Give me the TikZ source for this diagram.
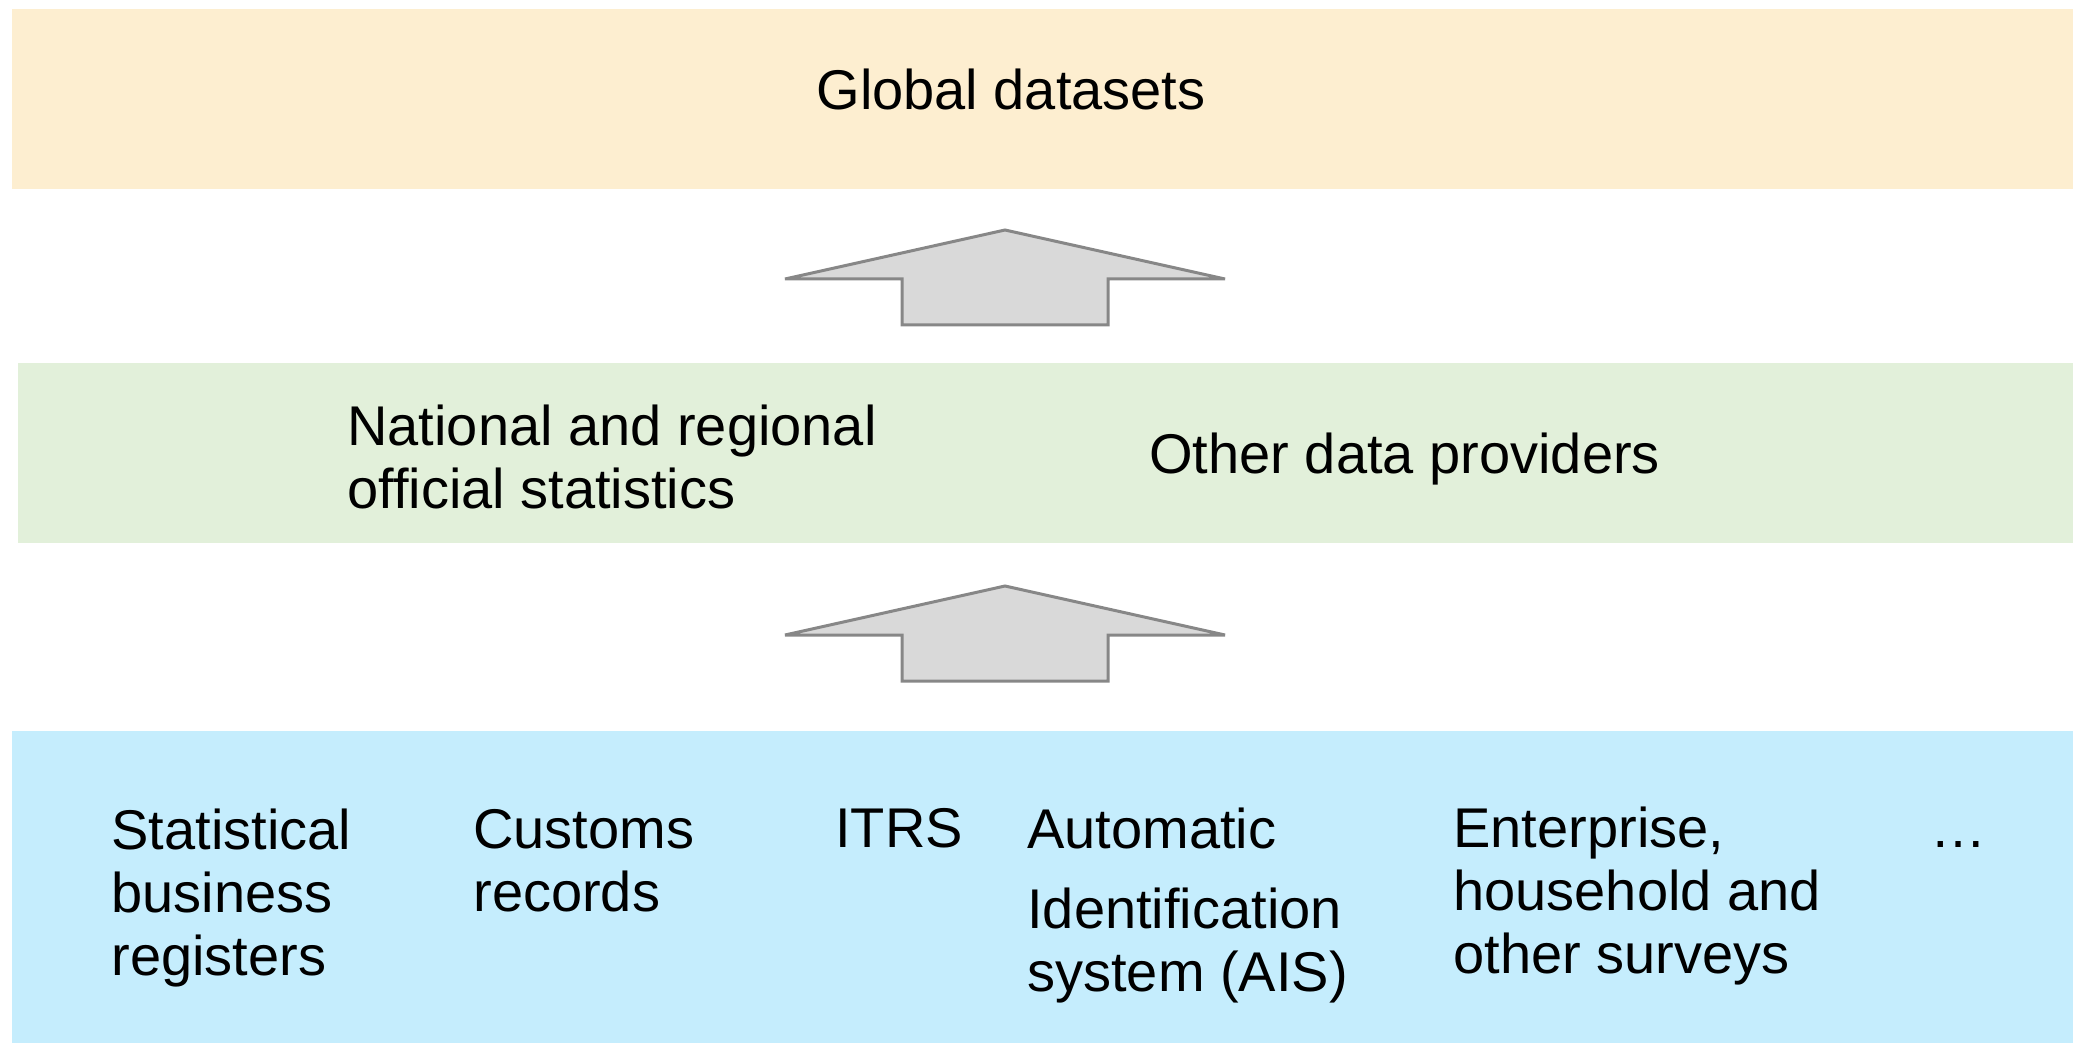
\documentclass[tikz,border=0pt]{standalone}
\usepackage{fontspec}
\setmainfont{Liberation Sans}
\definecolor{orangeband}{HTML}{FDEED0}
\definecolor{greenband}{HTML}{E2F0DA}
\definecolor{blueband}{HTML}{C5EDFD}
\definecolor{arrowfill}{HTML}{D9D9D9}
\definecolor{arrowgray}{HTML}{878787}
\begin{document}
\begin{tikzpicture}[x=0.5pt,y=-0.5pt,
  band/.style={draw=none,inner sep=0pt,outer sep=0pt},
  lbl/.style={anchor=base west,align=left,inner sep=0pt,font=\fontsize{28}{31.5}\selectfont},
  uparrow/.style={draw=arrowgray,fill=arrowfill,line width=1.5pt,miter limit=2}]
\useasboundingbox (0,0) rectangle (2073,1043);
% bands
\node[band,fill=orangeband,minimum width=1030.5pt,minimum height=90pt] (global) at (1042.5,99) {};
\node[band,fill=greenband,minimum width=1027.5pt,minimum height=90pt] (middle) at (1045.5,453) {};
\node[band,fill=blueband,minimum width=1030.5pt,minimum height=156pt] (sources) at (1042.5,887) {};
% arrows
\draw[uparrow] (1005,230) -- (1225,279) -- (1108,279) -- (1108,325) -- (902,325) -- (902,279) -- (785,279) -- cycle;
\draw[uparrow] (1005,586) -- (1225,635) -- (1108,635) -- (1108,681) -- (902,681) -- (902,635) -- (785,635) -- cycle;
% texts (base anchor = baseline of last line)
\node[lbl,anchor=base] (tglobal) at (1011,110) {Global datasets};
\node[lbl] (tnat) at (347,508) {National and regional\\official statistics};
\node[lbl] (tother) at (1149,473) {Other data providers};
\node[lbl] (tstat) at (111,975) {Statistical\\business\\registers};
\node[lbl] (tcust) at (473,911) {Customs\\records};
\node[lbl] (titrs) at (835,847) {ITRS};
\node[lbl] (tais) at (1027,991) {Automatic\\[8.5pt]Identification\\system (AIS)};
\node[lbl] (tent) at (1453,973) {Enterprise,\\household and\\other surveys};
\node[lbl] (tdots) at (1930,847) {…};
\end{tikzpicture}
\end{document}
